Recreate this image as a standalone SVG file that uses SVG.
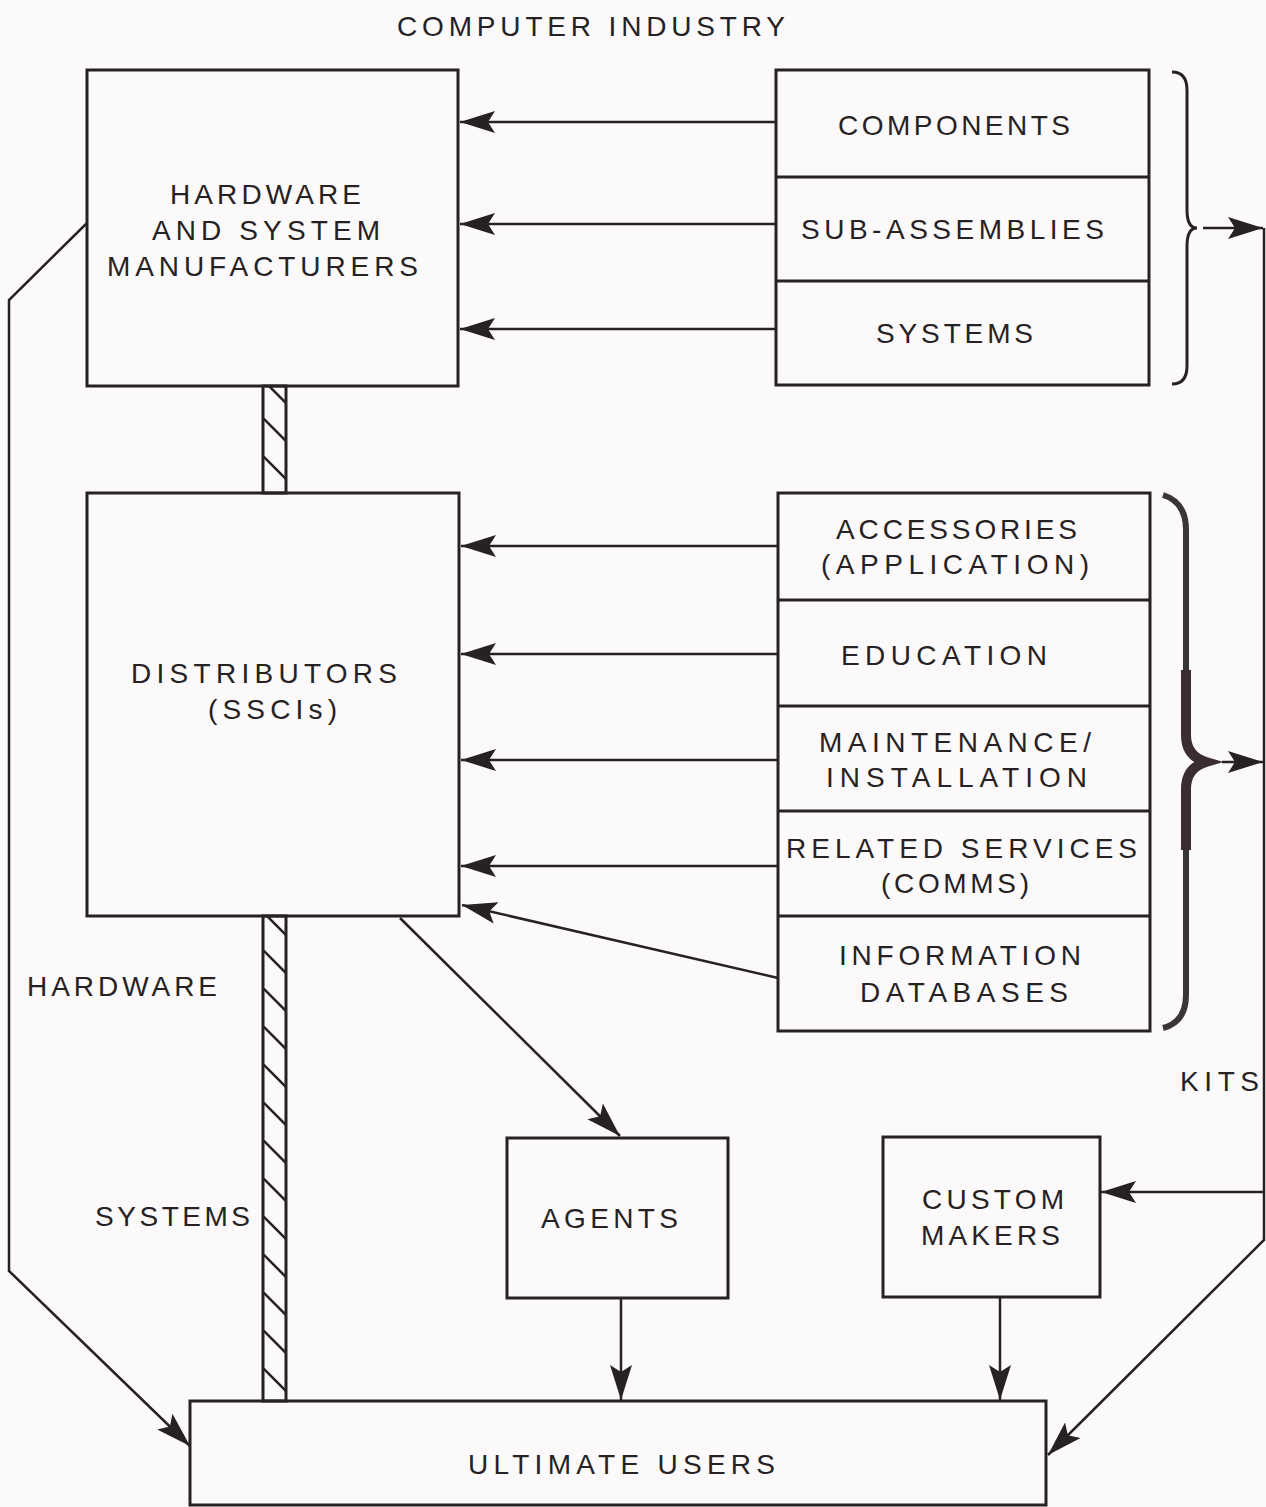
<svg xmlns="http://www.w3.org/2000/svg" width="1266" height="1507" viewBox="0 0 1266 1507">
<style>
.box{fill:none;stroke:#262223;stroke-width:3}
.bar{fill:url(#hatch);stroke:#262223;stroke-width:3}
.ln{fill:none;stroke:#262223;stroke-width:2.5}
.ar{fill:none;stroke:#262223;stroke-width:2.5;marker-end:url(#ah)}
text{font-family:"Liberation Sans",Arial,sans-serif;font-size:28px;fill:#262223}
.c{text-anchor:middle}
</style>
<defs>
<marker id="ah" markerUnits="userSpaceOnUse" markerWidth="38" markerHeight="24" refX="35" refY="12" orient="auto" viewBox="0 0 38 24">
<path d="M0,1 L35,12 L0,23 L7,12 z" fill="#262223"/>
</marker>
<pattern id="hatch" patternUnits="userSpaceOnUse" x="263" y="0" width="23" height="38">
<line x1="0" y1="0" x2="23" y2="23" stroke="#262223" stroke-width="2.5"/>
</pattern>
</defs>
<rect width="1266" height="1507" fill="#fbf9fa"/>
<text x="591" y="36" class="c" textLength="388" lengthAdjust="spacing">COMPUTER INDUSTRY</text>

<g id="connectors">
<rect x="263" y="386" width="23" height="107" class="bar"/>
<rect x="263" y="916" width="23" height="485" class="bar"/>
<line x1="776" y1="122" x2="460" y2="122" class="ar"/>
<line x1="776" y1="224" x2="460" y2="224" class="ar"/>
<line x1="776" y1="329" x2="460" y2="329" class="ar"/>
<line x1="778" y1="546" x2="461" y2="546" class="ar"/>
<line x1="778" y1="654" x2="461" y2="654" class="ar"/>
<line x1="778" y1="760" x2="461" y2="760" class="ar"/>
<line x1="778" y1="866" x2="461" y2="866" class="ar"/>
<line x1="778" y1="978" x2="462" y2="905" class="ar"/>
<line x1="400" y1="918" x2="620" y2="1136" class="ar"/>
<polyline points="87,223 9,300 9,1271 190,1446" class="ar"/>
<polyline points="1264,228 1264,1240 1048,1455" class="ar"/>
<line x1="1264" y1="1192" x2="1101" y2="1192" class="ar"/>
<line x1="1203" y1="228" x2="1263" y2="228" class="ar"/>
<line x1="1222" y1="762" x2="1263" y2="762" class="ar"/>
<line x1="621" y1="1298" x2="621" y2="1400" class="ar"/>
<line x1="1000" y1="1297" x2="1000" y2="1400" class="ar"/>
<path d="M1172,72 Q1187,72 1187,90 L1187,210 Q1187,228 1197,228 Q1187,228 1187,246 L1187,366 Q1187,384 1172,384" class="ln" style="stroke-width:3"/>
<path d="M1163,495 Q1186,502 1186,530 L1186,735 Q1186,758 1208,762 Q1186,766 1186,789 L1186,995 Q1186,1022 1163,1028" class="ln" style="stroke-width:6;stroke:#3a3537"/>
<path d="M1186,670 L1186,735 Q1186,756 1206,762 Q1186,768 1186,789 L1186,850" class="ln" style="stroke-width:10;stroke:#3b2b33"/>
</g>

<g id="hw">
<rect x="87" y="70" width="371" height="316" class="box"/>
<text x="265.5" y="204" class="c" textLength="191" lengthAdjust="spacing">HARDWARE</text>
<text x="266" y="240" class="c" textLength="228" lengthAdjust="spacing">AND SYSTEM</text>
<text x="262.5" y="276" class="c" textLength="311" lengthAdjust="spacing">MANUFACTURERS</text>
</g>
<g id="top-stack">
<rect x="776" y="70" width="373" height="315" class="box"/>
<line x1="776" y1="177" x2="1149" y2="177" class="box"/>
<line x1="776" y1="281" x2="1149" y2="281" class="box"/>
<text x="954" y="135" class="c" textLength="232" lengthAdjust="spacing">COMPONENTS</text>
<text x="952.5" y="239" class="c" textLength="303" lengthAdjust="spacing">SUB-ASSEMBLIES</text>
<text x="954.5" y="343" class="c" textLength="157" lengthAdjust="spacing">SYSTEMS</text>
</g>
<g id="dist">
<rect x="87" y="493" width="372" height="423" class="box"/>
<text x="264" y="683" class="c" textLength="266" lengthAdjust="spacing">DISTRIBUTORS</text>
<text x="272.5" y="719" class="c" textLength="129" lengthAdjust="spacing">(SSCIs)</text>
</g>
<g id="svc-stack">
<rect x="778" y="493" width="372" height="538" class="box"/>
<line x1="778" y1="600" x2="1150" y2="600" class="box"/>
<line x1="778" y1="706" x2="1150" y2="706" class="box"/>
<line x1="778" y1="811" x2="1150" y2="811" class="box"/>
<line x1="778" y1="916" x2="1150" y2="916" class="box"/>
<text x="956.5" y="539" class="c" textLength="241" lengthAdjust="spacing">ACCESSORIES</text>
<text x="955" y="574" class="c" textLength="268" lengthAdjust="spacing">(APPLICATION)</text>
<text x="944" y="665" class="c" textLength="206" lengthAdjust="spacing">EDUCATION</text>
<text x="955" y="752" class="c" textLength="272" lengthAdjust="spacing">MAINTENANCE/</text>
<text x="956.5" y="787" class="c" textLength="261" lengthAdjust="spacing">INSTALLATION</text>
<text x="961.5" y="858" class="c" textLength="351" lengthAdjust="spacing">RELATED SERVICES</text>
<text x="955" y="893" class="c" textLength="148" lengthAdjust="spacing">(COMMS)</text>
<text x="960" y="965" class="c" textLength="242" lengthAdjust="spacing">INFORMATION</text>
<text x="964" y="1002" class="c" textLength="208" lengthAdjust="spacing">DATABASES</text>
</g>
<g id="agents">
<rect x="507" y="1138" width="221" height="160" class="box"/>
<text x="609.5" y="1228" class="c" textLength="137" lengthAdjust="spacing">AGENTS</text>
</g>
<g id="custom">
<rect x="883" y="1137" width="217" height="160" class="box"/>
<text x="993" y="1209" class="c" textLength="142" lengthAdjust="spacing">CUSTOM</text>
<text x="990.5" y="1245" class="c" textLength="139" lengthAdjust="spacing">MAKERS</text>
</g>
<g id="users">
<rect x="190" y="1401" width="856" height="104" class="box"/>
<text x="621.5" y="1474" class="c" textLength="307" lengthAdjust="spacing">ULTIMATE USERS</text>
</g>
<g id="labels">
<text x="27" y="996" textLength="190" lengthAdjust="spacing">HARDWARE</text>
<text x="95" y="1226" textLength="155" lengthAdjust="spacing">SYSTEMS</text>
<text x="1180" y="1091" textLength="79" lengthAdjust="spacing">KITS</text>
</g>
</svg>
